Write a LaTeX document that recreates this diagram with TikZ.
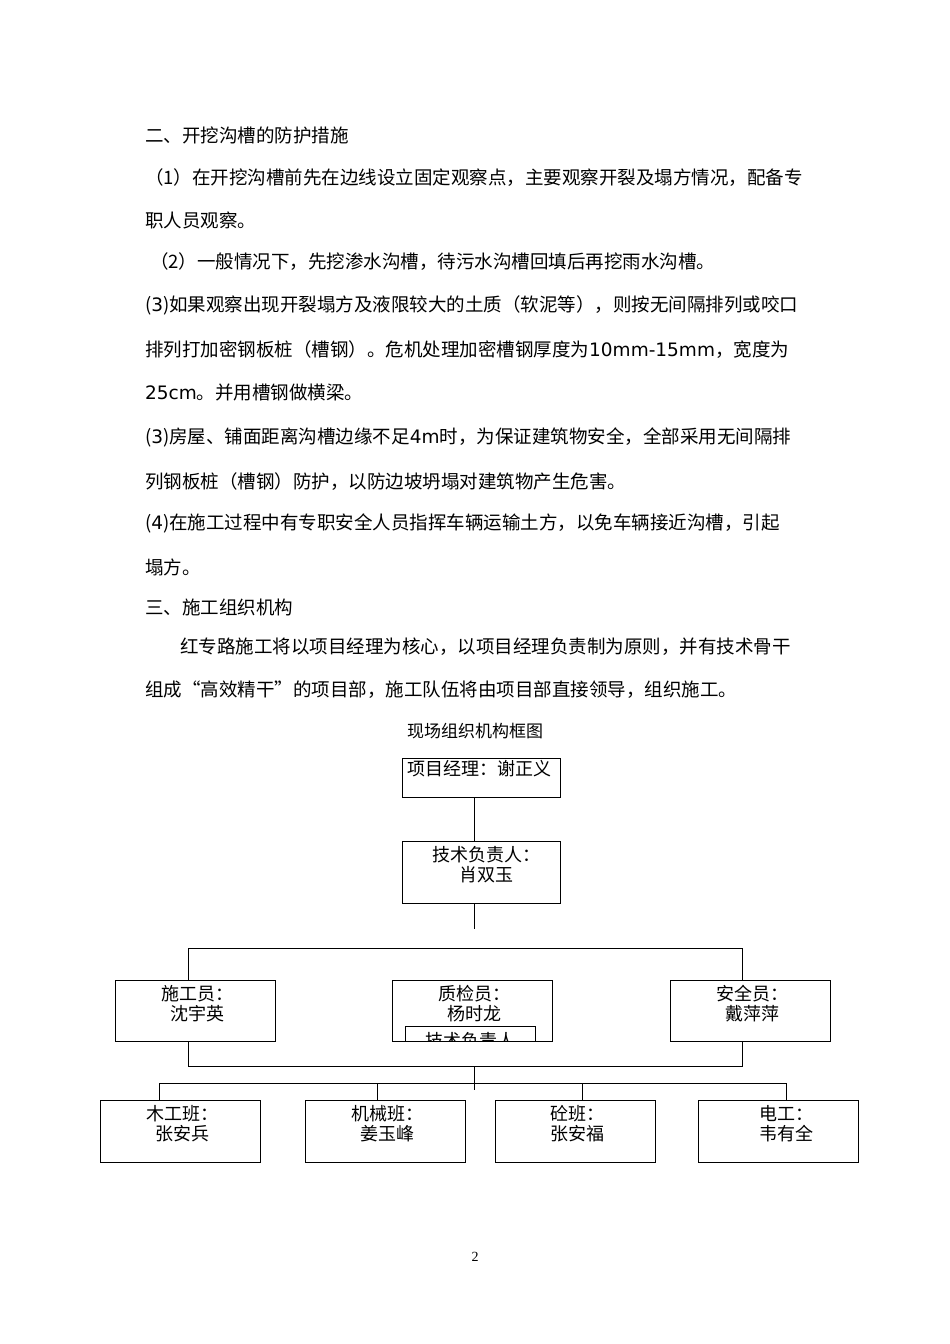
\documentclass[tikz,border=0pt]{standalone}
\usepackage{fontspec}
\setmainfont{Noto Sans CJK SC}
\newfontfamily\latinf{DejaVu Sans}
\newfontfamily\numf{Liberation Serif}
\begin{document}
\begin{tikzpicture}[x=1pt,y=-1pt,
  body/.style={anchor=west,inner sep=0pt,font=\fontsize{18.5}{20}\selectfont},
  box/.style={draw,line width=1pt,inner sep=0pt},
  lbl/.style={align=center,font=\fontsize{18}{20}\selectfont,inner sep=0pt},
  ln/.style={line width=1pt}]
\useasboundingbox (0,0) rectangle (950,1344);
\node[body] (t1) at (145,135) {二、开挖沟槽的防护措施};
\node[body] (t2) at (145,178) {（1）在开挖沟槽前先在边线设立固定观察点，主要观察开裂及塌方情况，配备专};
\node[body] (t3) at (145,220) {职人员观察。};
\node[body] (t4) at (150,262) {（2）一般情况下，先挖渗水沟槽，待污水沟槽回填后再挖雨水沟槽。};
\node[body] (t5) at (145,305) {({\latinf 3})如果观察出现开裂塌方及液限较大的土质（软泥等），则按无间隔排列或咬口};
\node[body] (t6) at (145,350) {排列打加密钢板桩（槽钢）。危机处理加密槽钢厚度为{\latinf 10mm-15mm}，宽度为};
\node[body] (t7) at (145,393) {{\latinf 25cm}。并用槽钢做横梁。};
\node[body] (t8) at (145,437) {({\latinf 3})房屋、铺面距离沟槽边缘不足{\latinf 4m}时，为保证建筑物安全，全部采用无间隔排};
\node[body] (t9) at (145,482) {列钢板桩（槽钢）防护，以防边坡坍塌对建筑物产生危害。};
\node[body] (t10) at (145,523) {({\latinf 4})在施工过程中有专职安全人员指挥车辆运输土方，以免车辆接近沟槽，引起};
\node[body] (t11) at (145,567) {塌方。};
\node[body] (t12) at (145,607) {三、施工组织机构};
\node[body] (t13) at (180,647) {红专路施工将以项目经理为核心，以项目经理负责制为原则，并有技术骨干};
\node[body] (t14) at (145,690) {组成“高效精干”的项目部，施工队伍将由项目部直接领导，组织施工。};
\node[lbl,font=\fontsize{17}{19}\selectfont] (title) at (475,731) {现场组织机构框图};
% boxes
\node[box,minimum width=158pt,minimum height=39pt] (pm) at (481,777.5) {};
\node[lbl,anchor=north] (pmt) at (479,760) {项目经理：谢正义};
\node[box,minimum width=158pt,minimum height=62pt] (tech) at (481,872) {};
\node[lbl,anchor=north] (techt) at (486,846) {技术负责人：\\肖双玉};
\node[box,minimum width=160pt,minimum height=61pt] (sg) at (195,1010.5) {};
\node[lbl,anchor=north] (sgt) at (197,985) {施工员：\\沈宇英};
\node[box,minimum width=160pt,minimum height=61pt] (zj) at (472,1010.5) {};
\node[lbl,anchor=north] (zjt) at (474,985) {质检员：\\杨时龙};
\node[box,minimum width=160pt,minimum height=61pt] (aq) at (750,1010.5) {};
\node[lbl,anchor=north] (aqt) at (752,985) {安全员：\\戴萍萍};
\begin{scope}
\clip (404,1025) rectangle (537,1040);
\draw[ln] (405,1041) |- (535,1026) -- (535,1041);
\node[lbl,anchor=north] (zjin) at (470,1032) {技术负责人};
\end{scope}
\node[box,minimum width=160pt,minimum height=62pt] (mg) at (180,1131) {};
\node[lbl,anchor=north] (mgt) at (182,1105) {木工班：\\张安兵};
\node[box,minimum width=160pt,minimum height=62pt] (jx) at (385,1131) {};
\node[lbl,anchor=north] (jxt) at (387,1105) {机械班：\\姜玉峰};
\node[box,minimum width=160pt,minimum height=62pt] (tb) at (575,1131) {};
\node[lbl,anchor=north] (tbt) at (577,1105) {砼班：\\张安福};
\node[box,minimum width=160pt,minimum height=62pt] (dg) at (778,1131) {};
\node[lbl,anchor=north] (dgt) at (786,1105) {电工：\\韦有全};
% connectors
\coordinate (c1) at (474,929);
\coordinate (c2) at (474,1090);
\draw[ln] (474,797) -- (474,841);
\draw[ln] (474,903) -- (c1);
\draw[ln] (188,980) |- (742,948) -- (742,980);
\draw[ln] (188,1041) |- (742,1066) -- (742,1041);
\draw[ln] (474,1066) -- (c2);
\draw[ln] (159,1100) |- (786,1083) -- (786,1100);
\draw[ln] (377,1083) -- (377,1100);
\draw[ln] (582,1083) -- (582,1100);
\node[font=\numf\fontsize{14}{16}\selectfont] (pg) at (475,1257) {2};
\end{tikzpicture}
\end{document}
